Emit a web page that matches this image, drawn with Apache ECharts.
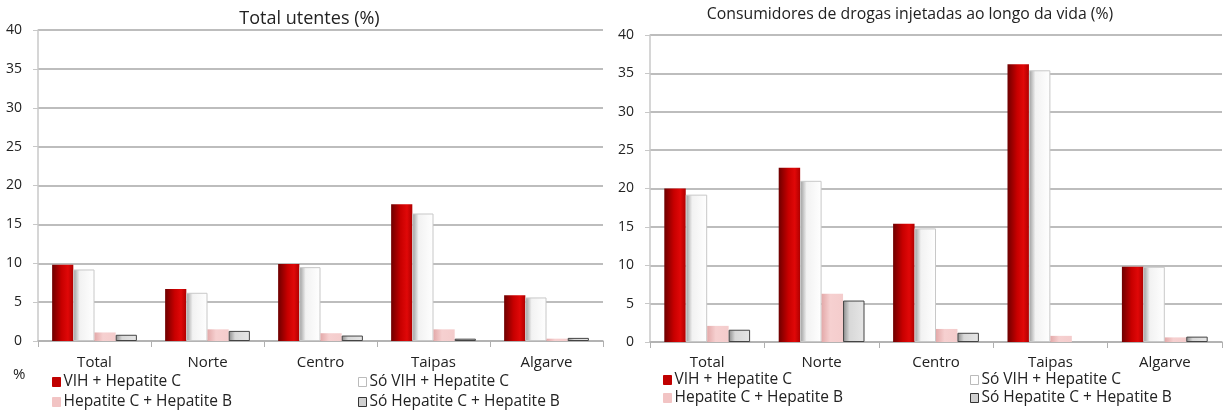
<!DOCTYPE html>
<html><head><meta charset="utf-8">
<script src="https://cdn.jsdelivr.net/npm/echarts@6/dist/echarts.min.js"></script>
<style>html,body{margin:0;padding:0;background:#fff}#c{width:1224px;height:412px}</style>
</head><body><div id="c"></div>
<script>
const categories = ['Total','Norte','Centro','Taipas','Algarve'];
const seriesNames = ['VIH + Hepatite C','Só VIH + Hepatite C','Hepatite C + Hepatite B','Só Hepatite C + Hepatite B'];
const titles = ['Total utentes (%)','Consumidores de drogas injetadas ao longo da vida (%)'];
const unitLabel = '%';
const yTicks = {min:0, max:40, interval:5};
// Left chart: Total utentes
const leftVihHepC = [9.8, 6.7, 9.9, 17.6, 5.9];
const leftSoVihHepC = [9.2, 6.2, 9.5, 16.4, 5.6];
const leftHepCHepB = [1.1, 1.5, 1.0, 1.5, 0.3];
const leftSoHepCHepB = [0.8, 1.3, 0.7, 0.3, 0.4];
// Right chart: Consumidores de drogas injetadas ao longo da vida
const rightVihHepC = [20.0, 22.7, 15.4, 36.2, 9.8];
const rightSoVihHepC = [19.2, 21.0, 14.8, 35.4, 9.8];
const rightHepCHepB = [2.1, 6.3, 1.7, 0.8, 0.6];
const rightSoHepCHepB = [1.6, 5.4, 1.2, 0.0, 0.7];

const FONT = 'Open Sans';
function grad(stops){return new echarts.graphic.LinearGradient(0,0,1,0,stops.map(c=>({offset:c[0],color:c[1]})));}
const styles = [
  {color: grad([[0,'#6e0000'],[0.45,'#c80000'],[0.75,'#e00808'],[1,'#b00000']]), borderWidth:0},
  {color: grad([[0,'#9a9a9a'],[0.3,'#f2f2f2'],[1,'#ffffff']]), borderColor:'#c8c8c8', borderWidth:1},
  {color: grad([[0,'#e3a9a9'],[0.4,'#f6d0d0'],[1,'#f4cccc']]), borderWidth:0},
  {color: grad([[0,'#8a8a8a'],[0.3,'#d8d8d8'],[1,'#e6e6e6']]), borderColor:'#444', borderWidth:1}
];
const legendColors = ['#c00000','#ffffff','#f2c4c4','#d0d0d0'];
const legendBorders = ['#c00000','#bbbbbb','#f2c4c4','#333333'];

const grids = [
  {left:38, right:621, top:30, bottom:71},
  {left:650, right:2, top:35, bottom:70}
];
const labelMargins = [14, 13];
const xAxes = grids.map((g,i)=>({type:'category', gridIndex:i, data:categories,
  axisLine:{lineStyle:{color:'#b0b0b0',width:1.5}}, axisTick:{show:true,length:6,lineStyle:{color:'#b0b0b0'}},
  axisLabel:{color:'#222', fontFamily:FONT, fontSize:15, margin:labelMargins[i]}}));
const yAxes = grids.map((g,i)=>({type:'value', gridIndex:i, min:yTicks.min, max:yTicks.max, interval:yTicks.interval,
  axisLine:{show:true,lineStyle:{color:'#c8c8c8',width:1.5}}, axisTick:{show:true,length:5,lineStyle:{color:'#c8c8c8'}},
  splitLine:{lineStyle:{color:'#bdbdbd',width:2}},
  axisLabel:{color:'#222', fontFamily:FONT, fontSize:14, margin:16}}));
const dataSets = [
  [leftVihHepC,leftSoVihHepC,leftHepCHepB,leftSoHepCHepB],
  [rightVihHepC,rightSoVihHepC,rightHepCHepB,rightSoHepCHepB]
];
const series = [];
dataSets.forEach((ds,gi)=>{
  ds.forEach((arr,si)=>{
    series.push({type:'bar', name:seriesNames[si], xAxisIndex:gi, yAxisIndex:gi,
      data:arr.map(v=> v===0 ? {value:v, itemStyle:{borderWidth:0}} : v),
      barGap:'0%', barCategoryGap:'25%', itemStyle:styles[si], emphasis:{disabled:true}, animation:false});
  });
});
const legendPos = [[52,374],[358,374],[52,394],[358,394],[663,372],[970,372],[663,390],[970,390]];
const legends = legendPos.map((p,k)=>{
  const si = k%4;
  return {left:p[0], top:p[1], padding:0, itemWidth:8, itemHeight:9, itemGap:0, selectedMode:false,
    textStyle:{fontFamily:FONT, fontSize:15.5, color:'#222', padding:[0,0,0,-2]},
    data:[{name:seriesNames[si], icon:'rect', itemStyle:{color:legendColors[si], borderColor:legendBorders[si], borderWidth:1}}]};
});
const chart = echarts.init(document.getElementById('c'));
chart.setOption({
  animation:false,
  graphic:[
    {type:'text', x:309.5, y:19, style:{text:titles[0], fill:'#222', font:'18px "Open Sans"', align:'center', verticalAlign:'middle'}},
    {type:'text', x:910, y:14, style:{text:titles[1], fill:'#222', font:'15.8px "Open Sans"', align:'center', verticalAlign:'middle'}},
    {type:'text', x:13, y:375, style:{text:unitLabel, fill:'#222', font:'15px "Open Sans"', align:'left', verticalAlign:'middle'}}
  ],
  legend:legends,
  grid:grids, xAxis:xAxes, yAxis:yAxes, series:series
});
</script></body></html>
